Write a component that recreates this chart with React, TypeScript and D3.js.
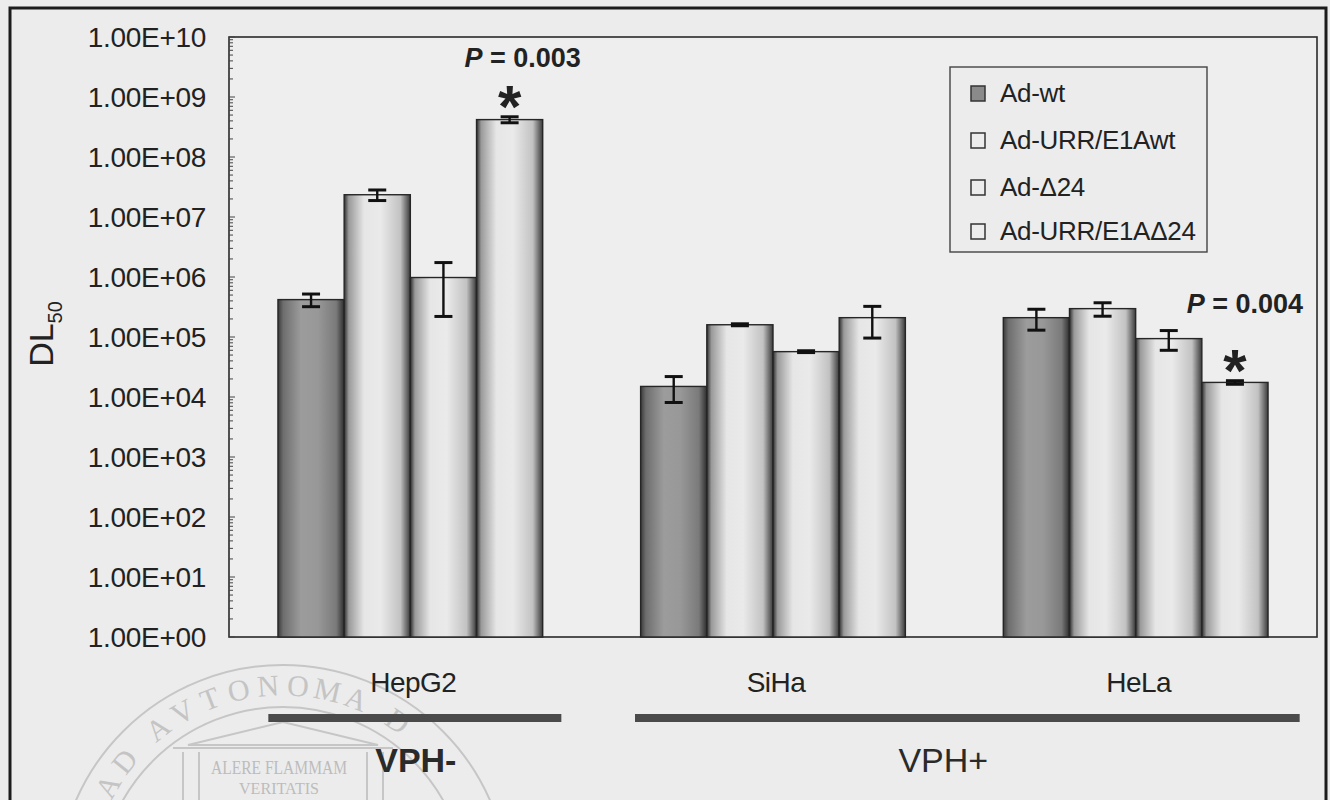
import React from 'react';
import * as d3 from 'd3';

// ---------------- data ----------------
const categories = ['HepG2', 'SiHa', 'HeLa'];
const seriesNames = ['Ad-wt', 'Ad-URR/E1Awt', 'Ad-Δ24', 'Ad-URR/E1AΔ24'];

const adWt = [4.2e5, 1.5e4, 2.1e5];
const adWtErr = [1.0e5, 6.9e3, 8.0e4];
const adUrrWt = [2.35e7, 1.6e5, 2.97e5];
const adUrrWtErr = [4.7e6, 6.0e3, 7.5e4];
const adD24 = [9.8e5, 5.7e4, 9.4e4];
const adD24Err = [7.6e5, 2.0e3, 3.4e4];
const adUrrD24 = [4.2e8, 2.1e5, 1.75e4];
const adUrrD24Err = [4.8e7, 1.14e5, 1.2e3];

const yTickValues = [1, 1e1, 1e2, 1e3, 1e4, 1e5, 1e6, 1e7, 1e8, 1e9, 1e10];
const yTickLabels = [
  '1.00E+00', '1.00E+01', '1.00E+02', '1.00E+03', '1.00E+04', '1.00E+05',
  '1.00E+06', '1.00E+07', '1.00E+08', '1.00E+09', '1.00E+10',
];

const significance = [
  { category: 'HepG2', series: 3, text: '0.003' },
  { category: 'HeLa', series: 3, text: '0.004' },
];

const groupLabels = ['VPH-', 'VPH+'];
const groupMembers = [['HepG2'], ['SiHa', 'HeLa']];

const watermarkArcText = 'AD AVTONOMA D';

// ---------------- layout ----------------
const W = 1330;
const H = 800;
const M = { left: 229, top: 37, right: 1317, bottom: 637 };
const FONT = "'Liberation Sans', Arial, Helvetica, sans-serif";
const SERIF = "'Liberation Serif', 'DejaVu Serif', serif";

const values = [adWt, adUrrWt, adD24, adUrrD24];
const errors = [adWtErr, adUrrWtErr, adD24Err, adUrrD24Err];

const x0 = d3.scaleBand<string>().domain(categories).range([M.left, M.right]).paddingInner(0.27).paddingOuter(0.135);
const x1 = d3.scaleBand<number>().domain([0, 1, 2, 3]).range([0, x0.bandwidth()]).padding(0);
const y = d3.scaleLog().domain([1, 1e10]).range([M.bottom, M.top]);

const minorTicks: number[] = [];
for (let d = 0; d < 10; d++) for (let k = 2; k <= 9; k++) minorTicks.push(k * Math.pow(10, d));

const sigLayout = [
  { pdx: 13, pdy: -60 },
  { pdx: 10, pdy: -78 },
];
const groupLayout = [
  { left: -142, right: 151, labelDx: 1 },
  { left: -138, right: 164, labelDx: -24 },
];

// watermark glyph positions along a circle
const wm = { cx: 283, cy: 888, r: 203 };
function watermarkGlyphs() {
  const adv = (ch: string) => (ch === ' ' ? 17 : 30);
  const advs = watermarkArcText.split('').map(adv);
  let cum = 0;
  const centers = advs.map((a) => { const c = cum + a / 2; cum += a; return c; });
  const iN = watermarkArcText.indexOf('NOMA');
  const mid = (centers[iN] + centers[iN + 1]) / 2;
  return watermarkArcText.split('').map((ch, i) => {
    const th = (centers[i] - mid) / wm.r;
    return {
      ch,
      x: wm.cx + wm.r * Math.sin(th),
      y: wm.cy - wm.r * Math.cos(th),
      deg: (th * 180) / Math.PI,
    };
  }).filter((g) => g.ch !== ' ');
}

export default function App() {
  const cx = (c: string) => (x0(c) as number) + x0.bandwidth() / 2;
  const legendYs = [102, 149, 196, 240];
  const glyphs = watermarkGlyphs();

  return (
    <svg width={W} height={H} style={{ position: 'absolute', left: 0, top: 0, background: '#ececec' }} fontFamily={FONT}>
      <defs>
        <linearGradient id="gDark" x1="0" x2="1" y1="0" y2="0">
          <stop offset="0" stopColor="#3a3a3a" />
          <stop offset="0.08" stopColor="#6e6e6e" />
          <stop offset="0.35" stopColor="#9c9c9c" />
          <stop offset="0.6" stopColor="#989898" />
          <stop offset="0.88" stopColor="#7a7a7a" />
          <stop offset="1" stopColor="#2e2e2e" />
        </linearGradient>
        <linearGradient id="gLight" x1="0" x2="1" y1="0" y2="0">
          <stop offset="0" stopColor="#2e2e2e" />
          <stop offset="0.07" stopColor="#9a9a9a" />
          <stop offset="0.3" stopColor="#e6e6e6" />
          <stop offset="0.55" stopColor="#eaeaea" />
          <stop offset="0.85" stopColor="#c2c2c2" />
          <stop offset="1" stopColor="#3a3a3a" />
        </linearGradient>
      </defs>

      <rect x={0} y={0} width={W} height={H} fill="#ececec" />

      {/* watermark */}
      <g fill="none" stroke="#c6c6c6" strokeWidth={2}>
        <circle cx={wm.cx} cy={wm.cy + 3} r={226} />
        <circle cx={wm.cx} cy={wm.cy + 3} r={184} />
        <path d={`M ${wm.cx - 95},745 L ${wm.cx},722 L ${wm.cx + 95},745 Z`} />
        <line x1={wm.cx - 110} y1={748} x2={wm.cx + 110} y2={748} />
        {[-100, -84, 84, 100].map((d) => (
          <line key={d} x1={wm.cx + d} y1={752} x2={wm.cx + d} y2={800} />
        ))}
      </g>
      <g fontFamily={SERIF} fontSize={30} fill="#c4c4c4" textAnchor="middle">
        {glyphs.map((g, i) => (
          <text key={i} x={0} y={0} dy="0.35em" transform={`translate(${g.x.toFixed(1)},${g.y.toFixed(1)}) rotate(${g.deg.toFixed(1)})`}>{g.ch}</text>
        ))}
      </g>
      <text x={wm.cx - 4} y={774} textAnchor="middle" fontFamily={SERIF} fontSize={18} fill="#bcbcbc" textLength={136} lengthAdjust="spacingAndGlyphs">ALERE FLAMMAM</text>
      <text x={wm.cx - 4} y={794} textAnchor="middle" fontFamily={SERIF} fontSize={17} fill="#bcbcbc" textLength={80} lengthAdjust="spacingAndGlyphs">VERITATIS</text>

      {/* outer frame */}
      <path d={`M 10,${H} V 8 H 1326 V ${H}`} fill="none" stroke="#1c1c1c" strokeWidth={3} />

      {/* plot area */}
      <rect x={M.left} y={M.top} width={M.right - M.left} height={M.bottom - M.top} fill="#eeeeee" stroke="#2a2a2a" strokeWidth={1.6} />

      {/* y axis ticks */}
      <g stroke="#444" strokeWidth={1}>
        {minorTicks.map((t, i) => (
          <line key={i} x1={M.left} x2={M.left + 4} y1={y(t)} y2={y(t)} />
        ))}
        {yTickValues.map((t, i) => (
          <line key={'M' + i} x1={M.left} x2={M.left + 6} y1={y(t)} y2={y(t)} />
        ))}
      </g>
      <g fontSize={28} fill="#222" textAnchor="end">
        {yTickValues.map((t, i) => (
          <text key={i} x={206} y={y(t)} dy="0.36em" letterSpacing={-0.3}>{yTickLabels[i]}</text>
        ))}
      </g>

      {/* y axis title */}
      <text transform={`translate(53,334) rotate(-90)`} textAnchor="middle" fontSize={34} fill="#222">
        DL<tspan fontSize={20} dy={9}>50</tspan>
      </text>

      {/* bars */}
      {categories.map((c, ci) => (
        <g key={c}>
          {values.map((vals, si) => {
            const xb = (x0(c) as number) + (x1(si) as number);
            const v = vals[ci];
            return (
              <rect key={si} x={xb} y={y(v)} width={x1.bandwidth()} height={y(1) - y(v)}
                fill={si === 0 ? 'url(#gDark)' : 'url(#gLight)'} stroke="#262626" strokeWidth={1.4} />
            );
          })}
        </g>
      ))}

      {/* error bars */}
      <g stroke="#111" strokeWidth={2.4}>
        {categories.map((c, ci) =>
          values.map((vals, si) => {
            const xm = (x0(c) as number) + (x1(si) as number) + x1.bandwidth() / 2;
            const v = vals[ci];
            const e = errors[si][ci];
            const yt = y(v + e);
            const yb = y(Math.max(v - e, 1));
            return (
              <g key={c + si}>
                <line x1={xm} x2={xm} y1={yt} y2={yb} />
                <line x1={xm - 9} x2={xm + 9} y1={yt} y2={yt} strokeWidth={3} />
                <line x1={xm - 9} x2={xm + 9} y1={yb} y2={yb} strokeWidth={3} />
              </g>
            );
          })
        )}
      </g>

      {/* significance */}
      {significance.map((s, i) => {
        const ci = categories.indexOf(s.category);
        const xm = (x0(s.category) as number) + (x1(s.series) as number) + x1.bandwidth() / 2;
        const v = values[s.series][ci];
        const e = errors[s.series][ci];
        const starBase = y(v + e) + 10;
        return (
          <g key={i} fill="#222">
            <text x={xm} y={starBase} textAnchor="middle" fontSize={60} fontWeight="bold">*</text>
            <text x={xm + sigLayout[i].pdx} y={starBase + sigLayout[i].pdy} textAnchor="middle" fontSize={27} fontWeight="bold">
              <tspan fontStyle="italic">P</tspan> = {s.text}
            </text>
          </g>
        );
      })}

      {/* category labels */}
      <g fontSize={28} fill="#222" textAnchor="middle">
        {categories.map((c) => (
          <text key={c} x={cx(c) + 3} y={692} letterSpacing={-0.5}>{c}</text>
        ))}
      </g>

      {/* group brackets */}
      {groupLabels.map((g, gi) => {
        const members = groupMembers[gi];
        const xl = cx(members[0]) + groupLayout[gi].left;
        const xr = cx(members[members.length - 1]) + groupLayout[gi].right;
        return (
          <g key={g}>
            <rect x={xl} y={714} width={xr - xl} height={8} fill="#4a4a4a" />
            <text x={(xl + xr) / 2 + groupLayout[gi].labelDx} y={772} textAnchor="middle" fontSize={34} fill="#2a2a2a" fontWeight={gi === 0 ? 'bold' : 'normal'}>{g}</text>
          </g>
        );
      })}

      {/* legend */}
      <rect x={950} y={67} width={257} height={185} fill="#ececec" stroke="#444" strokeWidth={1.4} />
      {seriesNames.map((s, i) => (
        <g key={s}>
          <rect x={971} y={legendYs[i] - 16} width={14} height={15}
            fill={i === 0 ? '#8a8a8a' : '#ececec'} stroke="#333" strokeWidth={1.5} />
          <text x={1000} y={legendYs[i]} fontSize={26} fill="#222" letterSpacing={-0.3}>{s}</text>
        </g>
      ))}
    </svg>
  );
}
